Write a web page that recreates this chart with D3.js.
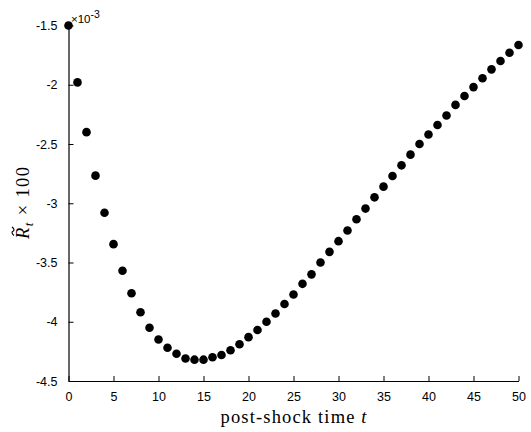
<!DOCTYPE html>
<html>
<head>
<meta charset="utf-8">
<script src="https://cdn.jsdelivr.net/npm/d3@7/dist/d3.min.js"></script>
<style>
  html, body { margin: 0; padding: 0; background: #fff; }
  svg { display: block; }
  .tick text { font-family: "Liberation Sans", Arial, sans-serif; font-size: 12.5px; fill: #000; }
  .lab { font-family: "Liberation Serif", "Times New Roman", serif; fill: #000; }
</style>
</head>
<body>
<svg id="chart" width="531" height="432"></svg>
<script>
// post-shock time steps
const times = d3.range(0, 51);
// R~_t x 100, expressed in units of 10^-3
const returns = [
  -1.50, -1.98, -2.40, -2.767, -3.08, -3.345, -3.57, -3.76, -3.92, -4.05,
  -4.15, -4.22, -4.27, -4.31, -4.32, -4.32, -4.30, -4.28, -4.24, -4.19,
  -4.13, -4.07, -4.00, -3.93, -3.85, -3.77, -3.68, -3.60, -3.50, -3.41,
  -3.32, -3.23, -3.135, -3.045, -2.95, -2.86, -2.77, -2.68, -2.59, -2.50,
  -2.42, -2.34, -2.26, -2.17, -2.095, -2.02, -1.945, -1.87, -1.80, -1.73,
  -1.665
];
const xTicks = [0, 5, 10, 15, 20, 25, 30, 35, 40, 45, 50];
const yTicks = [-4.5, -4, -3.5, -3, -2.5, -2, -1.5];
const yExponent = -3;

const svg = d3.select("#chart");
const x = d3.scaleLinear().domain([0, 50]).range([68.5, 518.5]);
const y = d3.scaleLinear().domain([-4.5, -1.5]).range([381, 25.5]);

// x axis with inward ticks
const gx = svg.append("g").attr("transform", "translate(0,381)")
  .call(d3.axisBottom(x).tickValues(xTicks).tickSizeInner(-5).tickSizeOuter(0).tickPadding(11)
    .tickFormat(d3.format("d")));
gx.select(".domain").attr("stroke", "#000").attr("stroke-width", 1.2);
gx.selectAll(".tick line").attr("stroke", "#000");
gx.selectAll(".tick text").attr("dy", "0.71em");

// y axis with inward ticks
const gy = svg.append("g").attr("transform", "translate(68.5,0)")
  .call(d3.axisLeft(y).tickValues(yTicks).tickSizeInner(-5).tickSizeOuter(0).tickPadding(11)
    .tickFormat(d => String(d)));
gy.select(".domain").attr("stroke", "#000").attr("stroke-width", 1.2);
gy.selectAll(".tick line").attr("stroke", "#000");

// exponent marker
const ex = svg.append("text").attr("x", 71).attr("y", 22.5)
  .attr("font-family", "Liberation Sans, Arial, sans-serif").attr("font-size", 11.5).attr("fill", "#000");
ex.append("tspan").text("\u00d710");
ex.append("tspan").attr("dy", -5).attr("font-size", 10.5).text(String(yExponent));

// markers
svg.append("g").selectAll("circle")
  .data(times.map((t, i) => ({ t, v: returns[i] })))
  .join("circle")
  .attr("cx", d => x(d.t))
  .attr("cy", d => y(d.v))
  .attr("r", 4.3)
  .attr("fill", "#000");

// x label
const xl = svg.append("text").attr("class", "lab")
  .attr("x", 293.5).attr("y", 422.5).attr("text-anchor", "middle").attr("font-size", 18.5)
  .attr("textLength", 146).attr("lengthAdjust", "spacing");
xl.append("tspan").text("post-shock time ");
xl.append("tspan").attr("font-style", "italic").text("t");

// y label: R with tilde accent, subscript t, times 100
const labelLen = 72;
const ylg = svg.append("g").attr("transform", "translate(28.5,203) rotate(-90)");
const yl = ylg.append("text").attr("class", "lab")
  .attr("x", -labelLen / 2).attr("font-size", 18.5)
  .attr("textLength", labelLen).attr("lengthAdjust", "spacing");
yl.append("tspan").attr("font-style", "italic").text("R");
yl.append("tspan").attr("font-style", "italic").attr("font-size", 13).attr("dy", 4).text("t");
yl.append("tspan").attr("dy", -4).text(" \u00d7 100");

// tilde accent over the R, drawn as a small wave
const tx0 = -labelLen / 2 + 3.5, tw = 8.5, ty = -15.5;
const tilde = d3.path();
tilde.moveTo(tx0, ty + 1);
tilde.bezierCurveTo(tx0 + tw * 0.25, ty - 2, tx0 + tw * 0.45, ty - 1, tx0 + tw * 0.5, ty);
tilde.bezierCurveTo(tx0 + tw * 0.55, ty + 1, tx0 + tw * 0.75, ty + 2, tx0 + tw, ty - 1);
ylg.append("path").attr("d", tilde.toString())
  .attr("fill", "none").attr("stroke", "#000").attr("stroke-width", 1.1);
</script>
</body>
</html>
